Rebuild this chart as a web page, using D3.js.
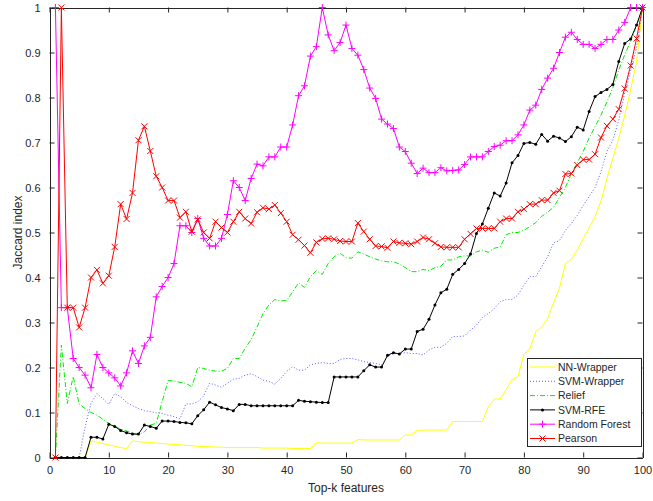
<!DOCTYPE html>
<html>
<head>
<meta charset="utf-8">
<script src="https://cdn.jsdelivr.net/npm/d3@7"></script>
<style>
  body { margin: 0; background: #fff; }
  svg { font-family: "Liberation Sans", Arial, sans-serif; }
</style>
</head>
<body>
<svg id="chart" width="653" height="501"></svg>
<script>
// top-k feature counts 1..100
var topK = d3.range(1, 101);

var xTicks = [0, 10, 20, 30, 40, 50, 60, 70, 80, 90, 100];
var yTicks = [0, 0.1, 0.2, 0.3, 0.4, 0.5, 0.6, 0.7, 0.8, 0.9, 1];

var nnWrapper = [0,0,0,0,0,0,
  0.037,0.034,0.031,0.028,0.025,0.022,0.020,
  0.037,0.035,0.034,0.033,0.032,0.031,0.030,0.029,0.028,0.027,0.026,0.025,0.024,0.024,0.023,0.023,0.022,
  0.022,0.022,0.022,0.022,0.022,0.021,0.021,0.021,0.021,0.021,0.020,0.020,0.020,0.020,
  0.033,0.032,0.032,0.032,0.032,0.032,0.032,
  0.040,0.039,0.039,0.039,0.039,0.039,0.039,0.039,
  0.050,0.050,
  0.060,0.061,0.061,0.061,0.061,0.061,
  0.080,0.080,0.080,0.080,0.080,0.080,
  0.113,0.130,0.130,0.151,0.172,0.180,0.230,0.241,0.280,0.290,0.309,0.344,0.376,0.431,0.440,0.461,0.487,0.510,0.535,0.570,0.620,0.665,0.710,0.760,0.817,0.880,1.0];

var svmWrapper = [0,0,0,0,0,
  0.068,0.120,0.142,0.131,0.118,0.142,0.135,0.122,0.115,0.109,
  0.104,0.102,0.099,0.098,0.094,0.091,0.086,0.119,0.119,0.124,
  0.137,0.165,0.161,0.156,0.165,0.174,0.176,0.183,0.186,0.180,
  0.172,0.169,0.163,0.176,0.191,0.202,0.194,0.194,0.206,0.209,
  0.211,0.209,0.209,0.218,0.220,0.220,0.217,0.213,0.211,0.209,
  0.206,0.224,0.231,0.231,0.233,0.231,0.231,0.228,0.239,0.245,
  0.245,0.254,0.269,0.269,0.270,0.283,0.294,0.311,0.320,0.331,
  0.346,0.351,0.351,0.361,0.383,0.402,0.402,0.424,0.446,0.477,
  0.482,0.505,0.520,0.538,0.560,0.580,0.600,0.635,0.680,0.705,
  0.750,0.810,0.860,0.910,1.0];

var relief = [0,0.250,0.120,0.180,0.119,0.109,0.100,0.094,0.085,0.076,
  0.069,0.063,0.059,0.054,0.051,0.057,0.072,0.076,0.124,0.171,
  0.170,0.167,0.165,0.157,0.200,0.198,0.194,0.192,0.192,0.198,
  0.220,0.220,0.243,0.262,0.290,0.320,0.339,0.351,0.348,0.349,
  0.368,0.388,0.378,0.402,0.415,0.407,0.431,0.446,0.454,0.444,
  0.443,0.457,0.452,0.446,0.441,0.437,0.435,0.435,0.430,0.422,
  0.413,0.413,0.418,0.415,0.422,0.425,0.439,0.439,0.446,0.448,
  0.448,0.457,0.461,0.456,0.465,0.468,0.495,0.500,0.500,0.505,
  0.513,0.522,0.536,0.545,0.556,0.578,0.600,0.631,0.655,0.680,
  0.710,0.735,0.761,0.790,0.822,0.861,0.895,0.925,0.960,1.0];

var svmRfe = [0,0,0,0,0,0,0.045,0.045,0.041,0.074,
  0.069,0.060,0.055,0.052,0.052,0.072,0.069,0.065,0.081,0.081,
  0.080,0.078,0.077,0.075,0.093,0.106,0.123,0.117,0.111,0.108,
  0.104,0.118,0.118,0.115,0.115,0.115,0.115,0.115,0.115,0.115,
  0.115,0.127,0.125,0.124,0.123,0.122,0.122,0.179,0.179,0.179,
  0.179,0.179,0.193,0.206,0.201,0.201,0.227,0.233,0.230,0.241,
  0.241,0.280,0.285,0.307,0.339,0.366,0.374,0.407,0.418,0.431,
  0.452,0.498,0.519,0.554,0.588,0.581,0.610,0.655,0.671,0.698,
  0.700,0.696,0.718,0.703,0.714,0.710,0.702,0.713,0.734,0.728,
  0.769,0.802,0.811,0.818,0.829,0.880,0.920,0.930,0.961,1.0];

var randomForest = [1.0,0.333,0.333,0.220,0.200,0.183,0.155,0.229,0.200,0.188,
  0.177,0.159,0.188,0.237,0.209,0.248,0.267,0.357,0.380,0.400,
  0.431,0.515,0.515,0.500,0.531,0.487,0.470,0.470,0.487,0.540,
  0.615,0.600,0.571,0.620,0.652,0.648,0.668,0.668,0.690,0.690,
  0.739,0.804,0.826,0.892,0.913,1.0,0.939,0.904,0.922,0.961,
  0.909,0.894,0.862,0.821,0.798,0.752,0.741,0.731,0.690,0.680,
  0.654,0.631,0.643,0.633,0.633,0.644,0.637,0.638,0.639,0.651,
  0.668,0.668,0.668,0.680,0.691,0.694,0.704,0.704,0.717,0.739,
  0.772,0.783,0.818,0.843,0.865,0.900,0.934,0.945,0.929,0.918,
  0.918,0.909,0.918,0.929,0.929,0.950,0.967,1.0,1.0,1.0];

var pearson = [0,1.0,0.333,0.333,0.289,0.333,0.400,0.417,0.387,0.404,
  0.468,0.563,0.530,0.588,0.705,0.736,0.681,0.625,0.600,0.571,
  0.571,0.533,0.546,0.502,0.529,0.500,0.487,0.524,0.511,0.500,
  0.524,0.546,0.531,0.520,0.545,0.555,0.552,0.561,0.543,0.524,
  0.495,0.484,0.471,0.455,0.478,0.486,0.487,0.485,0.481,0.480,
  0.480,0.521,0.502,0.485,0.470,0.469,0.466,0.480,0.477,0.476,
  0.474,0.480,0.489,0.485,0.476,0.468,0.467,0.467,0.467,0.485,
  0.497,0.509,0.509,0.509,0.509,0.524,0.531,0.531,0.546,0.552,
  0.563,0.563,0.572,0.572,0.588,0.593,0.630,0.631,0.650,0.662,
  0.662,0.674,0.711,0.737,0.752,0.774,0.820,0.871,0.931,1.0];

var series = [
  {name: "NN-Wrapper",    values: nnWrapper,    color: "#ffff00", dash: null,      marker: null},
  {name: "SVM-Wrapper",   values: svmWrapper,   color: "#5a5aff", dash: "1,2",     marker: null},
  {name: "Relief",        values: relief,       color: "#00ee00", dash: "5,2,1,2", marker: null},
  {name: "SVM-RFE",       values: svmRfe,       color: "#000000", dash: null,      marker: "dot"},
  {name: "Random Forest", values: randomForest, color: "#ff00ff", dash: null,      marker: "plus"},
  {name: "Pearson",       values: pearson,      color: "#ff0000", dash: null,      marker: "cross"}
];

var svg = d3.select("#chart");
var axisColor = "#262626";

var x = d3.scaleLinear().domain([0, 100]).range([49.5, 642.5]);
var y = d3.scaleLinear().domain([0, 1]).range([457.5, 7.5]);

var fmt = function(d) { return +d.toFixed(1); };
var tickLen = 5;

// axes with inward ticks, box on all four sides
function styleAxis(g) {
  g.select(".domain").attr("stroke", axisColor);
  g.selectAll(".tick line").attr("stroke", axisColor);
  g.selectAll(".tick text").attr("fill", axisColor).style("font-size", "11px");
}

svg.append("g")
  .attr("transform", "translate(0," + y(0) + ")")
  .call(d3.axisBottom(x).tickValues(xTicks).tickFormat(fmt).tickSizeInner(-tickLen).tickSizeOuter(0).tickPadding(9))
  .call(styleAxis);

svg.append("g")
  .attr("transform", "translate(0," + y(1) + ")")
  .call(d3.axisTop(x).tickValues(xTicks).tickFormat("").tickSizeInner(-tickLen).tickSizeOuter(0))
  .call(styleAxis);

svg.append("g")
  .attr("transform", "translate(" + x(0) + ",0)")
  .call(d3.axisLeft(y).tickValues(yTicks).tickFormat(fmt).tickSizeInner(-tickLen).tickSizeOuter(0).tickPadding(9))
  .call(styleAxis);

svg.append("g")
  .attr("transform", "translate(" + x(100) + ",0)")
  .call(d3.axisRight(y).tickValues(yTicks).tickFormat("").tickSizeInner(-tickLen).tickSizeOuter(0))
  .call(styleAxis);

svg.selectAll(".domain").attr("shape-rendering", "crispEdges");

// axis titles
svg.append("text")
  .attr("x", (x(0) + x(100)) / 2)
  .attr("y", 492)
  .attr("text-anchor", "middle")
  .attr("fill", axisColor)
  .style("font-size", "12px")
  .text("Top-k features");

svg.append("text")
  .attr("transform", "translate(22," + ((y(0) + y(1)) / 2) + ") rotate(-90)")
  .attr("text-anchor", "middle")
  .attr("fill", axisColor)
  .style("font-size", "12px")
  .text("Jaccard index");

function drawMarker(sel, type, color) {
  if (type === "dot") {
    sel.append("circle").attr("r", 1.5).attr("fill", color);
  } else if (type === "plus") {
    sel.append("path").attr("d", "M-3.5,0H3.5M0,-3.5V3.5")
      .attr("stroke", color).attr("stroke-width", 1).attr("fill", "none");
  } else if (type === "cross") {
    sel.append("path").attr("d", "M-3,-3L3,3M-3,3L3,-3")
      .attr("stroke", color).attr("stroke-width", 1).attr("fill", "none");
  }
}

var line = d3.line()
  .x(function(d, i) { return x(topK[i]); })
  .y(function(d) { return y(d); });

var plot = svg.append("g").attr("class", "lines");

series.forEach(function(s) {
  var g = plot.append("g");
  g.append("path")
    .attr("d", line(s.values))
    .attr("fill", "none")
    .attr("stroke", s.color)
    .attr("stroke-width", 1)
    .attr("stroke-dasharray", s.dash);
  if (s.marker) {
    g.selectAll("g.pt")
      .data(s.values)
      .enter().append("g")
      .attr("class", "pt")
      .attr("transform", function(d, i) { return "translate(" + x(topK[i]) + "," + y(d) + ")"; })
      .each(function() { drawMarker(d3.select(this), s.marker, s.color); });
  }
});

// legend
var legend = svg.append("g").attr("transform", "translate(527,358)");
legend.append("rect")
  .attr("width", 114)
  .attr("height", 88)
  .attr("fill", "#fff")
  .attr("stroke", axisColor)
  .attr("stroke-width", 1)
  .attr("shape-rendering", "crispEdges");

var rows = legend.selectAll("g.row")
  .data(series)
  .enter().append("g")
  .attr("class", "row")
  .attr("transform", function(d, i) { return "translate(0," + (9 + i * 14.3) + ")"; });

rows.append("line")
  .attr("x1", 3).attr("x2", 28)
  .attr("stroke", function(d) { return d.color; })
  .attr("stroke-width", 1)
  .attr("stroke-dasharray", function(d) { return d.dash; });

rows.each(function(d) {
  if (d.marker) {
    drawMarker(d3.select(this).append("g").attr("transform", "translate(15.5,0)"), d.marker, d.color);
  }
});

rows.append("text")
  .attr("x", 31)
  .attr("dy", "0.35em")
  .attr("fill", axisColor)
  .style("font-size", "10.5px")
  .text(function(d) { return d.name; });
</script>
</body>
</html>
